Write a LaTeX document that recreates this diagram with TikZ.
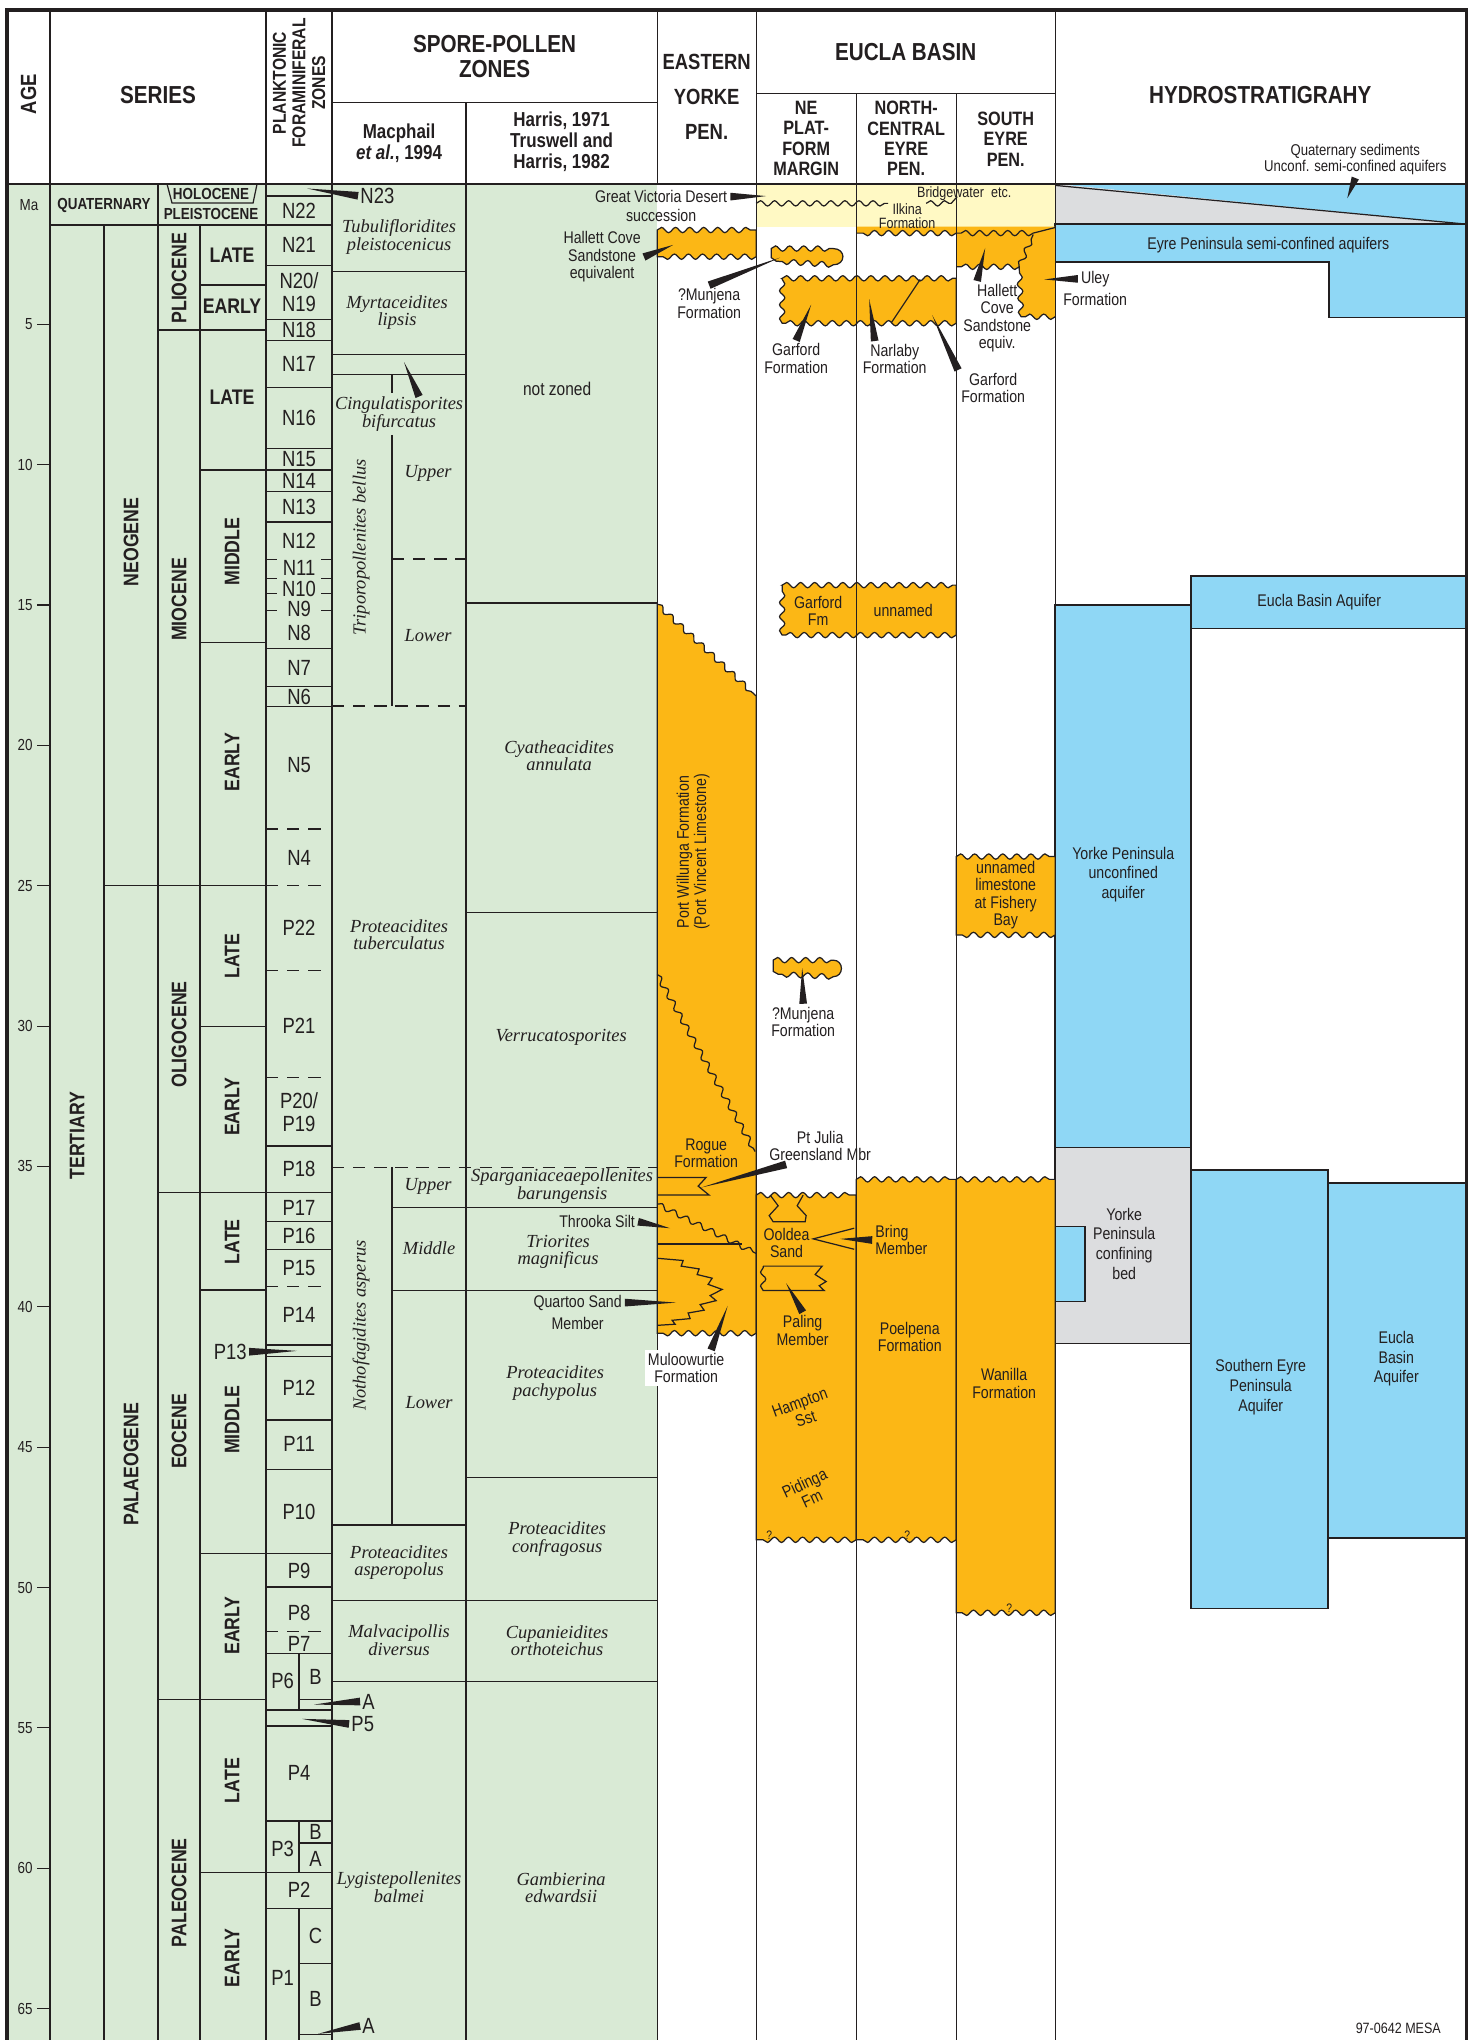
\documentclass[tikz,border=0pt]{standalone}
\usepackage{fontspec}
\setmainfont{Liberation Sans}[FakeStretch=0.84]
\newfontfamily\zonefont{Liberation Serif}
\usetikzlibrary{calc, decorations.pathmorphing, positioning}
\definecolor{ink}{RGB}{35,31,32}
\definecolor{zonegreen}{RGB}{217,234,213}
\definecolor{fmorange}{RGB}{252,183,21}
\definecolor{qyellow}{RGB}{255,249,196}
\definecolor{aqblue}{RGB}{143,215,245}
\definecolor{aqgrey}{RGB}{220,221,223}
\tikzset{
  wv/.style={decoration={snake, amplitude=1.5pt, segment length=8pt}},
  fm/.style={fill=fmorange, draw=ink},
  aq/.style={fill=aqblue, draw=ink, line width=0.9pt},
  dashln/.style={dash pattern=on 7pt off 5pt},
  hdbig/.style={font=\fontsize{14}{14}\selectfont\bfseries, align=center, inner sep=0pt},
  hdmid/.style={font=\fontsize{12.5}{20}\selectfont\bfseries, align=center, inner sep=0pt},
  hdsub/.style={font=\fontsize{11}{11.5}\selectfont\bfseries, align=center, inner sep=0pt},
  hdref/.style={font=\fontsize{11.5}{11.9}\selectfont\bfseries, align=center, inner sep=0pt},
  sername/.style={font=\fontsize{12}{12}\selectfont\bfseries, inner sep=0pt},
  serq/.style={font=\fontsize{9.1}{9.1}\selectfont\bfseries, inner sep=0pt},
  fzone/.style={font=\fontsize{12.5}{13}\selectfont, align=center, inner sep=1pt},
  spzone/.style={font=\zonefont\itshape\fontsize{10.5}{9.9}\selectfont, align=center, inner sep=0pt},
  fmlbl/.style={font=\fontsize{9.6}{9.9}\selectfont, align=center, inner sep=1.5pt},
  smlbl/.style={font=\fontsize{8.5}{8}\selectfont, align=center, inner sep=1pt},
  aqlbl/.style={font=\fontsize{9.6}{11.2}\selectfont, align=center, inner sep=0pt},
  agelbl/.style={font=\fontsize{9.1}{9.1}\selectfont, inner sep=1pt}
}
% filled pointer: wide end at #1, tip at #2
\newcommand{\ptr}[2]{\fill[ink] ($(#1)!2.2pt!90:(#2)$) -- (#2) -- ($(#1)!2.2pt!-90:(#2)$) -- cycle;}

\begin{document}
\begin{tikzpicture}[x=0.02cm, y=-0.5614cm, line width=0.7pt, color=ink]
\useasboundingbox (0,-6.555) rectangle (1471,66.12);
\fill[white] (0,-6.555) rectangle (1471,66.12);

% background fills
\fill[zonegreen] (7,0) rectangle (657,66.2);
\fill[qyellow] (756,0) rectangle (1055,1.52);

% hydrostratigraphy
\fill[aqblue] (1055,0) -- (1466,0) -- (1466,1.43) -- cycle;
\fill[aqgrey] (1055,0) -- (1466,1.43) -- (1055,1.43) -- cycle;
\draw (1055,0.05) -- (1466,1.43);
\draw[aq] (1055,1.43) -- (1466,1.43) -- (1466,4.75) -- (1329,4.75) -- (1329,2.77) -- (1055,2.77) -- cycle;
\draw[aq] (1191,13.97) rectangle (1466,15.83);
\draw[aq] (1055,15.0) rectangle (1191,34.32);
\draw[fill=aqgrey, line width=0.9pt] (1055,34.32) rectangle (1191,41.3);
\draw[aq] (1055,37.14) rectangle (1085,39.81);
\draw[aq] (1191,35.13) rectangle (1328,50.75);
\draw[aq] (1328,35.59) rectangle (1466,48.24);

% Pliocene formations
\draw[fm] (657,1.64) decorate[wv]{-- (756,1.64)} -- (756,2.59) decorate[wv]{-- (657,2.59)} -- cycle;
\fill[fmorange] (856,1.52) -- (956,1.52) -- (956,1.75) decorate[wv]{-- (856,1.75)} -- cycle;
\draw (956,1.75) decorate[wv]{-- (856,1.75)};
\fill[fmorange] (956,1.52) -- (1055,1.52) -- (1055,4.73) decorate[wv]{-- (1021,4.73)} decorate[wv]{-- (1019,2.95)} decorate[wv]{-- (956,2.95)} -- cycle;
\draw (1055,4.73) decorate[wv]{-- (1021,4.73)} decorate[wv]{-- (1019,2.95)} decorate[wv]{-- (956,2.95)};
\draw (1019,2.95) decorate[wv]{-- (1033,1.8)};
\draw (1033,1.75) decorate[wv]{-- (956,1.75)};
\draw (1033,1.75) -- (1055,1.55);
\draw (756,0.69) decorate[wv]{-- (888,0.69)};
\draw (926,0.69) decorate[wv]{-- (951,0.69)} -- (957,0.45);
\draw[fm] (771,2.3) decorate[wv]{-- (833,2.3)} .. controls (846,2.3) and (846,2.88) .. (833,2.88) decorate[wv]{-- (776,2.75)} -- (771,2.62) -- cycle;
\draw[fm] (782,3.36) decorate[wv]{-- (956,3.36)} -- (956,4.96) decorate[wv]{-- (782,4.96)} decorate[wv]{-- (782,3.36)} -- cycle;
\draw (920,3.4) -- (891,4.95);

% Miocene and Oligocene formations
\draw[fm] (782,14.29) decorate[wv]{-- (956,14.29)} -- (956,16.07) decorate[wv]{-- (782,16.07)} decorate[wv]{-- (782,14.29)} -- cycle;
\draw[fm] (956,23.96) decorate[wv]{-- (1055,23.96)} -- (1055,26.75) decorate[wv]{-- (956,26.75)} -- cycle;
\draw[fm] (773,27.65) decorate[wv]{-- (833,27.65)} .. controls (844,27.65) and (844,28.24) .. (833,28.24) decorate[wv]{-- (778,28.15)} -- (773,28.05) -- cycle;
\draw[fm] (657,14.97) decorate[wv]{-- (756,18.24)} -- (756,40.94) decorate[wv]{-- (657,40.94)} -- cycle;

% Eocene formations
\draw[fm] (756,36.02) decorate[wv]{-- (856,36.02)} -- (856,48.3) decorate[wv]{-- (756,48.3)} -- cycle;
\draw[fm] (856,35.46) decorate[wv]{-- (956,35.46)} -- (956,48.3) decorate[wv]{-- (856,48.3)} -- cycle;
\draw[fm] (956,35.46) decorate[wv]{-- (1055,35.46)} -- (1055,50.9) decorate[wv]{-- (956,50.9)} -- cycle;
\draw (657,28.16) decorate[wv]{-- (755,34.47)};
\draw (657,35.39) -- (706,35.39) -- (698,35.7) -- (709,36.02) -- (657,36.02);
\draw (657,36.34) decorate[wv]{-- (756,38.1)};
\draw (657,37.76) -- (742,37.76);
\draw (657,38.27) -- (683,38.35) -- (681,38.55) -- (699,38.65) -- (697,38.85) -- (712,38.98) -- (708,39.2) -- (722,39.38) -- (710,39.6) -- (716,39.78) -- (700,39.92) -- (704,40.12) -- (688,40.22) -- (690,40.42) -- (672,40.48) -- (675,40.62) -- (657,40.66);
\draw (770,36.02) -- (778,36.4) -- (769,36.75) -- (773,36.97) -- (805,36.97) -- (806,36.75) -- (797,36.4) -- (803,36.02);
\draw (854,37.2) -- (813,37.58) -- (854,37.95);
\draw (763,38.55) -- (822,38.55) -- (815,38.85) -- (826,39.1) -- (819,39.25) -- (824,39.42) -- (763,39.42) decorate[wv]{-- (763,38.55)};

% frame and header rules
\draw[line width=1.8pt] (7,66.2) -- (7,-6.2) -- (1466,-6.2) -- (1466,66.2);
\draw[line width=1pt] (7,0) -- (1466,0);
\foreach \x in {50,266,332,657,756,1055} \draw (\x,-6.2) -- (\x,0);
\draw (332,-2.9) -- (657,-2.9); \draw (466,-2.9) -- (466,0);
\draw (756,-3.22) -- (1055,-3.22); \draw (856,-3.22) -- (856,0); \draw (956,-3.22) -- (956,0);

% column rules
\foreach \x in {50,158,266,332,466,756,856,956,1055} \draw (\x,0) -- (\x,66.2);
\draw (104,1.46) -- (104,66.2); \draw (200,1.46) -- (200,66.2);
\draw (657,1.64) -- (657,66.2);
\draw (299,52.35) -- (299,54.36); \draw (299,58.32) -- (299,60.15); \draw (299,61.44) -- (299,66.2);
\draw (392,6.78) -- (392,7.45); \draw (392,8.94) -- (392,18.6); \draw (392,35.03) -- (392,47.77);

% series and foram boundaries
\draw (167,0) -- (172,0.68) -- (253,0.68) -- (257,0);
\draw (50,1.46) -- (332,1.46);
\draw (158,5.2) -- (266,5.2);
\draw (104,25) -- (266,25);
\draw (158,35.94) -- (332,35.94);
\draw (158,54) -- (266,54);
\foreach \m in {3.6,16.34,30,39.4} \draw (200,\m) -- (266,\m);
\foreach \m in {10.19,48.8,60.15} \draw (200,\m) -- (332,\m);
\foreach \m in {0.43,2.9,4.82,5.58,7.24,9.43,10.95,12.04,16.54,17.9,18.61,34.27,36.96,37.95,41.36,41.78,44.03,45.8,49.98,52.35,54.36,54.93,58.32,61.44}
  \draw (266,\m) -- (332,\m);
\foreach \m in {53.98,59.1,63.4,65.92} \draw (299,\m) -- (332,\m);
\foreach \m in {22.98,25,28.02,31.84,39.28,51.58} \draw[dashln] (266,\m) -- (326,\m);
\foreach \m in {13.37,14.05,14.6,15.2} {\draw (266,\m) -- (277,\m); \draw (321,\m) -- (332,\m);}

% spore-pollen boundaries
\foreach \m in {3.13,6.07,6.78,47.77} \draw (332,\m) -- (466,\m);
\foreach \m in {50.46,53.35} \draw (332,\m) -- (657,\m);
\foreach \m in {36.46,39.43} \draw (392,\m) -- (657,\m);
\foreach \m in {14.93,25.95,46.07} \draw (466,\m) -- (657,\m);
\draw[dashln] (332,18.6) -- (466,18.6);
\draw[dashln] (392,13.36) -- (466,13.36);
\draw[dashln] (332,35.03) -- (657,35.03);

% age scale
\node[agelbl] (ma) at (29,0.75) {Ma};
\foreach \m in {5,10,...,65} {\draw (37,\m) -- (50,\m); \node[agelbl, anchor=east] (age\m) at (35,\m) {\m};}

% header
\node[hdmid, rotate=90] (hage) at (28.5,-3.2) {AGE};
\node[hdbig] (hseries) at (158,-3.17) {SERIES};
\node[font=\fontsize{10.6}{11.2}\selectfont\bfseries, rotate=90, align=center, inner sep=0pt] (hforam) at (299,-3.6) {PLANKTONIC\\FORAMINIFERAL\\ZONES};
\node[hdbig] (hspore) at (494.5,-4.54) {SPORE-POLLEN\\ZONES};
\node[hdref] (hmac) at (399,-1.46) {Macphail\\\textit{et al.}, 1994};
\node[hdref] (hhar) at (561.5,-1.5) {Harris, 1971\\Truswell and\\Harris, 1982};
\node[hdmid] (heyp) at (706.5,-3.1) {EASTERN\\YORKE\\PEN.};
\node[hdbig] (heucla) at (905.5,-4.7) {EUCLA BASIN};
\node[hdsub] (hne) at (806,-1.62) {NE\\PLAT-\\FORM\\MARGIN};
\node[hdsub] (hnc) at (906,-1.62) {NORTH-\\CENTRAL\\EYRE\\PEN.};
\node[hdsub] (hse) at (1005.5,-1.6) {SOUTH\\EYRE\\PEN.};
\node[hdbig] (hhydro) at (1260,-3.17) {HYDROSTRATIGRAHY};

% series
\node[serq] (squat) at (104,0.75) {QUATERNARY};
\node[serq] (sholo) at (211,0.36) {HOLOCENE};
\node[serq] (spleis) at (211,1.08) {PLEISTOCENE};
\node[sername, rotate=90] (stert) at (77,33.9) {TERTIARY};
\node[sername, rotate=90] (sneo) at (131,12.75) {NEOGENE};
\node[sername, rotate=90] (spalaeo) at (131,45.6) {PALAEOGENE};
\node[sername, rotate=90] (splio) at (179,3.36) {PLIOCENE};
\node[sername, rotate=90] (smio) at (179,14.8) {MIOCENE};
\node[sername, rotate=90] (soligo) at (179,30.3) {OLIGOCENE};
\node[sername, rotate=90] (seo) at (179,44.44) {EOCENE};
\node[sername, rotate=90] (spaleo) at (179,60.87) {PALEOCENE};
\node[sername] (plioL) at (232,2.53) {LATE};
\node[sername] (plioE) at (232,4.35) {EARLY};
\node[sername] (mioL) at (232,7.58) {LATE};
\node[sername, rotate=90] (mioM) at (232,13.1) {MIDDLE};
\node[sername, rotate=90] (mioE) at (232,20.6) {EARLY};
\node[sername, rotate=90] (oliL) at (232,27.5) {LATE};
\node[sername, rotate=90] (oliE) at (232,32.87) {EARLY};
\node[sername, rotate=90] (eoL) at (232,37.68) {LATE};
\node[sername, rotate=90] (eoM) at (232,44.03) {MIDDLE};
\node[sername, rotate=90] (eoE) at (232,51.35) {EARLY};
\node[sername, rotate=90] (paL) at (232,56.88) {LATE};
\node[sername, rotate=90] (paE) at (232,63.2) {EARLY};

% planktonic foraminiferal zones
\node[fzone] (n22) at (299,0.95) {N22};
\node[fzone] (n21) at (299,2.18) {N21};
\node[fzone] (n20) at (299,3.86) {N20/\\N19};
\node[fzone] (n18) at (299,5.2) {N18};
\node[fzone] (n17) at (299,6.41) {N17};
\node[fzone] (n16) at (299,8.33) {N16};
\node[fzone] (n15) at (299,9.81) {N15};
\node[fzone] (n14) at (299,10.57) {N14};
\node[fzone] (n13) at (299,11.5) {N13};
\node[fzone] (n12) at (299,12.7) {N12};
\node[fzone] (n11) at (299,13.69) {N11};
\node[fzone] (n10) at (299,14.42) {N10};
\node[fzone] (n9) at (299,15.15) {N9};
\node[fzone] (n8) at (299,16.0) {N8};
\node[fzone] (n7) at (299,17.25) {N7};
\node[fzone] (n6) at (299,18.26) {N6};
\node[fzone] (n5) at (299,20.7) {N5};
\node[fzone] (n4) at (299,24.0) {N4};
\node[fzone] (p22) at (299,26.5) {P22};
\node[fzone] (p21) at (299,30.0) {P21};
\node[fzone] (p20) at (299,33.05) {P20/\\P19};
\node[fzone] (p18) at (299,35.1) {P18};
\node[fzone] (p17) at (299,36.46) {P17};
\node[fzone] (p16) at (299,37.46) {P16};
\node[fzone] (p15) at (299,38.62) {P15};
\node[fzone] (p14) at (299,40.3) {P14};
\node[fzone] (p12) at (299,42.9) {P12};
\node[fzone] (p11) at (299,44.9) {P11};
\node[fzone] (p10) at (299,47.3) {P10};
\node[fzone] (p9) at (299,49.4) {P9};
\node[fzone] (p8) at (299,50.9) {P8};
\node[fzone] (p7) at (299,52.0) {P7};
\node[fzone] (p6) at (282.5,53.33) {P6};
\node[fzone] (p6b) at (315.5,53.2) {B};
\node[fzone] (p4) at (299,56.6) {P4};
\node[fzone] (p3) at (282.5,59.3) {P3};
\node[fzone] (p3b) at (315.5,58.72) {B};
\node[fzone] (p3a) at (315.5,59.66) {A};
\node[fzone] (p2) at (299,60.78) {P2};
\node[fzone] (p1) at (282.5,63.9) {P1};
\node[fzone] (p1c) at (315.5,62.4) {C};
\node[fzone] (p1b) at (315.5,64.64) {B};
\node[fzone, anchor=west] (n23) at (358,0.42) {N23};
\coordinate (n23tip) at (307,0.16);
\node[fzone, anchor=east] (p13) at (249,41.6) {P13};
\coordinate (p13tip) at (297,41.57);
\node[fzone, anchor=west] (p6a) at (360,54.06) {A};
\coordinate (p6atip) at (314,54.17);
\node[fzone, anchor=west] (p5) at (349,54.86) {P5};
\coordinate (p5tip) at (302,54.68);
\node[fzone, anchor=west] (p1a) at (360,65.62) {A};
\coordinate (p1atip) at (318,65.9);

% spore-pollen zones
\node[spzone] (tubul) at (399,1.89) {Tubulifloridites\\pleistocenicus};
\node[spzone] (myrt) at (397,4.59) {Myrtaceidites\\lipsis};
\node[spzone] (cing) at (399,8.2) {Cingulatisporites\\bifurcatus};
\coordinate (cingbase) at ([xshift=0.4cm]cing.north);
\coordinate (cingtip) at (404,6.35);
\node[spzone, rotate=90] (tripo) at (361,12.95) {Triporopollenites bellus};
\node[spzone] (tripoU) at (428,10.3) {Upper};
\node[spzone] (tripoL) at (428,16.08) {Lower};
\node[spzone] (ptub) at (399,26.75) {Proteacidites\\tuberculatus};
\node[spzone, rotate=90] (noth) at (361,40.67) {Nothofagidites asperus};
\node[spzone] (nothU) at (428,35.72) {Upper};
\node[spzone] (nothM) at (429,37.9) {Middle};
\node[spzone] (nothL) at (429,43.4) {Lower};
\node[spzone] (pasp) at (399,49.1) {Proteacidites\\asperopolus};
\node[spzone] (malv) at (399,51.88) {Malvacipollis\\diversus};
\node[spzone] (lygi) at (399,60.68) {Lygistepollenites\\balmei};
\node[fmlbl, font=\fontsize{10.5}{10.5}\selectfont] (notz) at (557,7.3) {not zoned};
\node[spzone] (cyat) at (559,20.37) {Cyatheacidites\\annulata};
\node[spzone] (verr) at (561,30.4) {Verrucatosporites};
\node[spzone] (sparg) at (562,35.7) {Sparganiaceaepollenites\\barungensis};
\node[spzone] (trio) at (558,38.05) {Triorites\\magnificus};
\node[spzone] (ppach) at (555,42.72) {Proteacidites\\pachypolus};
\node[spzone] (pconf) at (557,48.27) {Proteacidites\\confragosus};
\node[spzone] (cupa) at (557,51.9) {Cupanieidites\\orthoteichus};
\node[spzone] (gamb) at (561,60.69) {Gambierina\\edwardsii};

% formations, Pliocene
\node[fmlbl] (gvdA) at (661,0.45) {Great Victoria Desert};
\node[fmlbl, below=0pt of gvdA] (gvdB) {succession};
\coordinate (gvdtip) at (766,0.43);
\node[fmlbl] (hcs) at (602,2.6) {Hallett Cove\\Sandstone\\equivalent};
\coordinate (hcstip) at (673,2.17);
\node[smlbl] (ilk) at (907,1.15) {Ilkina\\Formation};
\node[smlbl] (bridge) at (964,0.35) {Bridgewater\ \ etc.};
\node[fmlbl] (munA) at (709,4.25) {?Munjena\\Formation};
\coordinate (munAtip) at (780,2.62);
\node[fmlbl] (garA) at (796,6.22) {Garford\\Formation};
\coordinate (garAtip) at (811,4.3);
\node[fmlbl] (nar) at (894.5,6.24) {Narlaby\\Formation};
\coordinate (narbase) at ([xshift=-0.4cm]nar.north);
\coordinate (nartip) at (869,4.1);
\node[fmlbl] (garB) at (993,7.27) {Garford\\Formation};
\coordinate (garBtip) at (932,4.67);
\node[fmlbl] (hce) at (997,4.78) {Hallett\\Cove\\Sandstone\\equiv.};
\coordinate (hcebase) at ([xshift=-0.4cm]hce.north);
\coordinate (hcetip) at (985,2.28);
\node[fmlbl] (uleyA) at (1095,3.38) {Uley};
\node[fmlbl, below=0pt of uleyA] (uleyB) {Formation};
\coordinate (uleytip) at (1044,3.4);
\node[fmlbl, font=\fontsize{8.9}{8.2}\selectfont] (qsed) at (1355,-0.88) {Quaternary sediments\\Unconf. semi-confined aquifers};
\coordinate (qsedtip) at (1347,0.51);
\node[fmlbl] (eyreaq) at (1268,2.17) {Eyre Peninsula semi-confined aquifers};

% formations, Miocene to Eocene
\node[fmlbl] (garC) at (818,15.2) {Garford\\Fm};
\node[fmlbl] (unnA) at (903,15.18) {unnamed};
\node[fmlbl] (fish) at (1005.5,25.34) {unnamed\\limestone\\at Fishery\\Bay};
\node[fmlbl] (munB) at (803,29.85) {?Munjena\\Formation};
\coordinate (munBtip) at (802,27.93);
\node[fmlbl, rotate=90] (pwil) at (693,23.8) {Port Willunga Formation\\(Port Vincent Limestone)};
\node[fmlbl] (rogue) at (706,34.53) {Rogue\\Formation};
\node[fmlbl] (ptj) at (820,34.28) {Pt Julia\\Greensland Mbr};
\coordinate (ptjbase) at ([xshift=0.4cm]ptj.south west);
\coordinate (ptjtip) at (701,35.75);
\node[fmlbl, anchor=east] (thr) at (638,36.97) {Throoka Silt};
\coordinate (thrtip) at (670,37.2);
\node[fmlbl] (qtzA) at (577.5,39.85) {Quartoo Sand};
\node[fmlbl, below=0pt of qtzA] (qtzB) {Member};
\coordinate (qtztip) at (676,39.85);
\node[fmlbl, fill=white] (mul) at (686,42.18) {Muloowurtie\\Formation};
\coordinate (mulbase) at ([xshift=0.5cm]mul.north);
\coordinate (multip) at (727.5,39.97);
\node[fmlbl] (ool) at (786.4,37.72) {Ooldea\\Sand};
\node[fmlbl, anchor=west, align=left] (bring) at (872,37.62) {Bring\\Member};
\coordinate (bringtip) at (840,37.58);
\node[fmlbl] (pal) at (802.5,40.84) {Paling\\Member};
\coordinate (paltip) at (786,39.16);
\node[fmlbl, rotate=20] (hamp) at (802.5,43.7) {Hampton\\Sst};
\node[fmlbl, rotate=25] (pid) at (808,46.55) {Pidinga\\Fm};
\node[fmlbl] (poel) at (909.6,41.08) {Poelpena\\Formation};
\node[fmlbl] (wan) at (1004,42.73) {Wanilla\\Formation};
\foreach \qx/\qy [count=\i] in {769/48.15, 907/48.15, 1009/50.75}
  \node[font=\fontsize{7}{7}\selectfont, inner sep=0pt] (quest\i) at (\qx,\qy) {?};

% aquifers
\node[aqlbl] (euclaA) at (1319,14.9) {Eucla Basin Aquifer};
\node[aqlbl] (yorkeU) at (1123,24.6) {Yorke Peninsula\\unconfined\\aquifer};
\node[aqlbl] (yorkeC) at (1124,37.75) {Yorke\\Peninsula\\confining\\bed};
\node[aqlbl] (seyre) at (1260.5,42.86) {Southern Eyre\\Peninsula\\Aquifer};
\node[aqlbl] (euclaB) at (1396,41.85) {Eucla\\Basin\\Aquifer};
\node[font=\fontsize{8.5}{8.5}\selectfont, inner sep=0pt] (mesa) at (1398,65.7) {97-0642 MESA};

% pointers
\ptr{n23.west}{n23tip}
\ptr{p13.east}{p13tip}
\ptr{p6a.west}{p6atip}
\ptr{p5.west}{p5tip}
\ptr{p1a.west}{p1atip}
\ptr{cingbase}{cingtip}
\ptr{gvdA.east}{gvdtip}
\ptr{hcs.east}{hcstip}
\ptr{munA.north}{munAtip}
\ptr{garA.north}{garAtip}
\ptr{narbase}{nartip}
\ptr{garB.north west}{garBtip}
\ptr{hcebase}{hcetip}
\ptr{uleyA.west}{uleytip}
\ptr{qsed.south}{qsedtip}
\ptr{munB.north}{munBtip}
\ptr{ptjbase}{ptjtip}
\ptr{thr.east}{thrtip}
\ptr{qtzA.east}{qtztip}
\ptr{mulbase}{multip}
\ptr{bring.west}{bringtip}
\ptr{pal.north}{paltip}
\end{tikzpicture}
\end{document}
